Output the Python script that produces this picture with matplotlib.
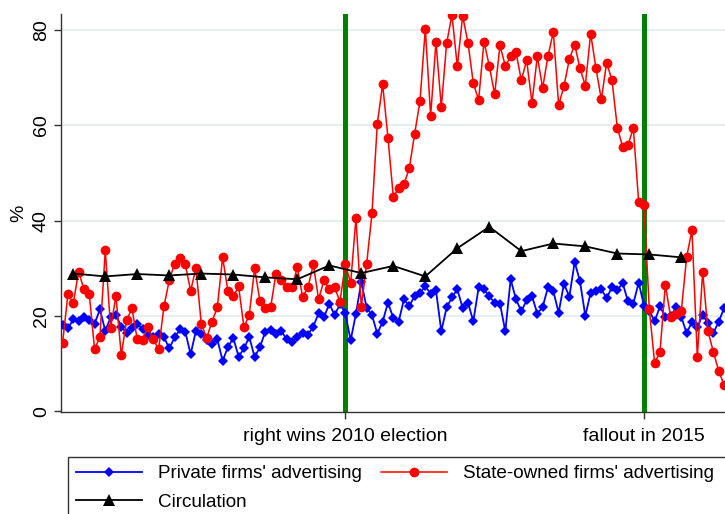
import matplotlib
matplotlib.use("Agg")
import matplotlib.pyplot as plt
from matplotlib.lines import Line2D
from matplotlib.patches import Rectangle

plt.rcParams['font.family'] = ['Liberation Sans', 'DejaVu Sans']

# ---- data (monthly index) ----
state_owned = [14.4, 24.6, 22.7, 29.3, 25.6, 24.6, 13.0, 15.7, 33.8, 17.5,
               24.2, 11.8, 19.1, 21.6, 15.1, 15.0, 17.6, 15.1, 13.0, 22.0,
               27.5, 31.0, 32.2, 30.8, 25.3, 30.0, 18.4, 15.4, 18.8, 21.8,
               32.3, 25.2, 24.1, 26.2, 17.6, 20.3, 30.0, 23.1, 21.6, 21.8,
               28.9, 27.5, 26.0, 26.0, 30.2, 24.0, 26.0, 30.8, 23.5, 27.5,
               25.6, 26.0, 23.0, 30.9, 26.9, 40.5, 21.9, 30.9, 41.5, 60.3,
               68.6, 57.4, 45.0, 46.8, 47.6, 51.0, 58.2, 65.0, 80.2, 62.0,
               77.4, 63.8, 77.2, 83.1, 72.3, 82.9, 77.3, 68.8, 65.3, 77.5,
               72.4, 66.5, 76.7, 72.4, 74.4, 75.3, 69.4, 73.6, 64.7, 74.4,
               67.8, 74.5, 79.5, 64.2, 68.2, 73.8, 76.9, 71.9, 68.3, 79.2,
               71.9, 65.4, 73.1, 69.4, 59.5, 55.4, 55.8, 59.4, 43.9, 43.3,
               21.4, 10.1, 12.5, 26.5, 19.8, 20.4, 21.1, 32.4, 38.0, 11.4,
               29.3, 16.8, 12.5, 8.5, 5.6]

private = [18.1, 17.4, 19.3, 18.9, 19.7, 19.1, 18.4, 21.4, 16.9, 19.7,
           20.2, 17.8, 16.4, 17.4, 18.4, 17.2, 16.0, 15.5, 16.3, 15.6,
           13.2, 15.5, 17.2, 16.7, 12.0, 16.9, 16.2, 14.9, 14.1, 15.2,
           10.6, 13.5, 15.4, 11.5, 13.2, 15.6, 11.4, 13.5, 16.7, 17.0,
           16.2, 16.9, 15.1, 14.6, 15.7, 16.4, 16.1, 17.8, 20.6, 19.7,
           22.6, 20.2, 22.5, 20.6, 14.9, 20.5, 27.2, 21.7, 20.2, 16.3,
           18.8, 22.8, 19.6, 18.8, 23.5, 22.1, 24.2, 24.9, 26.2, 24.7,
           25.4, 16.8, 21.8, 23.9, 25.6, 21.7, 22.8, 18.9, 26.0, 25.6,
           24.1, 22.8, 22.6, 16.8, 27.7, 23.5, 21.0, 23.3, 24.2, 20.5,
           21.9, 26.0, 25.2, 20.7, 26.8, 24.0, 31.3, 27.3, 20.0, 24.9,
           25.2, 25.6, 23.7, 26.1, 25.4, 26.9, 23.1, 22.6, 27.0, 22.2,
           21.1, 18.9, 22.0, 19.8, 19.9, 21.8, 19.8, 16.4, 18.8, 17.7,
           20.2, 18.5, 16.4, 18.8, 21.6]

circ_index = [2, 8, 14, 20, 26, 32, 38, 44, 50, 56,
              62, 68, 74, 80, 86, 92, 98, 104, 110, 116]
circulation = [28.9, 28.3, 28.8, 28.5, 28.9, 28.7, 28.1, 27.7, 30.6, 29.0,
               30.5, 28.3, 34.2, 38.7, 33.6, 35.2, 34.6, 33.1, 32.9, 32.3]

event_index = [53, 109]
event_labels = ["right wins 2010 election", "fallout in 2015"]
yticks = [0, 20, 40, 60, 80]

months = list(range(len(state_owned)))

# ---- figure ----
W, H = 725, 514
fig = plt.figure(figsize=(W / 100, H / 100), dpi=100)
ax_left, ax_right, ax_top, ax_bot = 61, 756, 14, 412.4
ax = fig.add_axes([ax_left / W, 1 - ax_bot / H, (ax_right - ax_left) / W, (ax_bot - ax_top) / H])

ax.set_xlim(-0.3, 130)
ax.set_ylim(-0.2, 83.3)

for y in yticks[1:]:
    ax.axhline(y, color='#e6eef0', lw=1.5, zorder=0)

for xi in event_index:
    ax.axvline(xi, color='#008000', lw=3.6, zorder=1)

ax.plot(months, private, color='#0000ff', lw=1.3, marker='D', ms=5.3,
        markeredgewidth=0, zorder=3)
ax.plot(months, state_owned, color='#ff0000', lw=1.1, marker='o', ms=7,
        markeredgewidth=0, zorder=4)
ax.plot(circ_index, circulation, color='black', lw=1.3, marker='^', ms=9,
        markeredgewidth=0, zorder=5)

for s in ['top', 'right']:
    ax.spines[s].set_visible(False)
for s in ['left', 'bottom']:
    ax.spines[s].set_color('#333333')
    ax.spines[s].set_linewidth(1.0)

ax.set_yticks(yticks)
ax.set_yticklabels([str(v) for v in yticks], rotation=90, va='center')
ax.set_xticks(event_index)
ax.set_xticklabels(event_labels)
ax.tick_params(axis='both', labelsize=14, length=5, width=1, color='#333333')
ax.tick_params(axis='y', pad=3)
ax.tick_params(axis='x', pad=6)

ax.set_ylabel('%', fontsize=14)
ax.yaxis.set_label_coords((27 - ax_left) / (ax_right - ax_left), 0.5)

handles = [
    Line2D([], [], color='#0000ff', lw=1.3, marker='D', ms=5.3, markeredgewidth=0),
    Line2D([], [], color='black', lw=1.3, marker='^', ms=9, markeredgewidth=0),
    Line2D([], [], color='#ff0000', lw=1.1, marker='o', ms=7, markeredgewidth=0),
]
labels = ["Private firms' advertising", "Circulation", "State-owned firms' advertising"]
leg = fig.legend(handles, labels, ncol=2, loc='upper left',
                 bbox_to_anchor=(68.3 / W, 1 - 457.3 / H), borderaxespad=0,
                 fontsize=13.6, handlelength=3.5, handletextpad=0.85,
                 columnspacing=1.0, borderpad=0.42, labelspacing=0.6,
                 fancybox=False, frameon=False)

# legend box extends past the right/bottom edges of the image, as in the reference
fig.patches.append(Rectangle((68.3 / W, 1 - 540 / H), (820 - 68.3) / W, (540 - 457.3) / H,
                             transform=fig.transFigure, fill=False,
                             edgecolor='#333333', lw=1.0))

fig.savefig('out.png', dpi=100)
